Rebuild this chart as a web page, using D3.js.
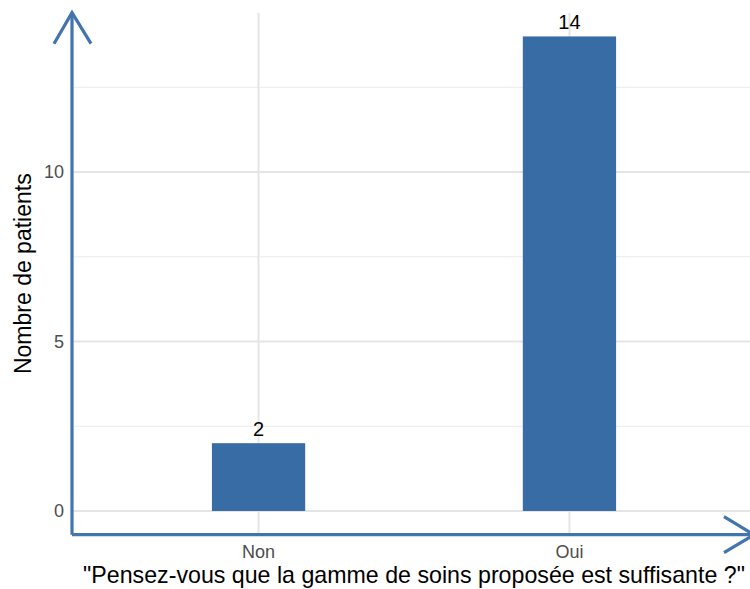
<!DOCTYPE html>
<html><head><meta charset="utf-8">
<script src="https://cdn.jsdelivr.net/npm/d3@7"></script>
<style>body{margin:0;background:#fff}svg{display:block}</style>
</head><body>
<svg id="c" width="750" height="589"></svg>
<script>
const categories = ["Non", "Oui"];
const values = [2, 14];
const yTicks = [0, 5, 10];
const yMinor = [2.5, 7.5, 12.5];
const xTitle = "\"Pensez-vous que la gamme de soins proposée est suffisante ?\"";
const yTitle = "Nombre de patients";

const W = 750, H = 589;
const panel = {left: 72, right: 756, top: 12.7, bottom: 534.7};
const svg = d3.select("#c");
const font = "Liberation Sans, Arial, Helvetica, sans-serif";
const blue = "#386CA5";
const axisBlue = "#4275AD";

const y = d3.scaleLinear().domain([-0.7, 14.7]).range([panel.bottom, panel.top]);
// discrete scale with 0.6 expansion each side
const xPos = d3.scaleLinear().domain([1 - 0.6, 2 + 0.6]).range([panel.left, panel.right]);
const x = c => xPos(categories.indexOf(c) + 1);
const barW = xPos(1.3) - xPos(1);

const g = svg.append("g");
// minor grid
g.selectAll(".ymin").data(yMinor).join("line")
  .attr("x1", panel.left).attr("x2", W).attr("y1", d => y(d)).attr("y2", d => y(d))
  .attr("stroke", "#ebebeb").attr("stroke-width", 1);
// major grid
g.selectAll(".ymaj").data(yTicks).join("line")
  .attr("x1", panel.left).attr("x2", W).attr("y1", d => y(d)).attr("y2", d => y(d))
  .attr("stroke", "#e5e5e5").attr("stroke-width", 2);
g.selectAll(".xmaj").data(categories).join("line")
  .attr("x1", d => x(d)).attr("x2", d => x(d)).attr("y1", panel.top).attr("y2", panel.bottom)
  .attr("stroke", "#e5e5e5").attr("stroke-width", 2);

// bars
g.selectAll(".bar").data(categories).join("rect")
  .attr("x", d => x(d) - barW / 2).attr("width", barW)
  .attr("y", (d, i) => y(values[i])).attr("height", (d, i) => y(0) - y(values[i]))
  .attr("fill", blue);

// bar labels
g.selectAll(".lbl").data(categories).join("text")
  .attr("x", d => x(d)).attr("y", (d, i) => y(values[i]) - 7)
  .attr("text-anchor", "middle").attr("font-family", font).attr("font-size", 20)
  .attr("fill", "#000").text((d, i) => values[i]);

// y tick labels
g.selectAll(".yt").data(yTicks).join("text")
  .attr("x", 64).attr("y", d => y(d)).attr("dy", "0.35em")
  .attr("text-anchor", "end").attr("font-family", font).attr("font-size", 18)
  .attr("fill", "#4d4d4d").text(d => d);
// x tick labels
g.selectAll(".xt").data(categories).join("text")
  .attr("x", d => x(d)).attr("y", 558)
  .attr("text-anchor", "middle").attr("font-family", font).attr("font-size", 18)
  .attr("fill", "#4d4d4d").text(d => d);

// axis lines with arrows
const ax = svg.append("g").attr("stroke", axisBlue).attr("stroke-width", 3.2)
  .attr("fill", "none").attr("stroke-linecap", "butt").attr("stroke-linejoin", "miter");
const ay0 = panel.bottom, axL = panel.left;
ax.append("path").attr("d", `M${axL},${ay0} L${axL},${panel.top}`);
ax.append("path").attr("d", `M${axL - 18},${panel.top + 31} L${axL},${panel.top} L${axL + 19},${panel.top + 31}`);
ax.append("path").attr("d", `M${axL},${ay0} L${panel.right - 2},${ay0}`);
ax.append("path").attr("d", `M${panel.right - 32},${ay0 - 18} L${panel.right - 2},${ay0} L${panel.right - 32},${ay0 + 18}`);

// titles
svg.append("text").attr("x", 414).attr("y", 583)
  .attr("text-anchor", "middle").attr("font-family", font).attr("font-size", 23.2)
  .attr("fill", "#000").text(xTitle);
svg.append("text").attr("transform", `translate(31,${(panel.top + panel.bottom) / 2}) rotate(-90)`)
  .attr("text-anchor", "middle").attr("font-family", font).attr("font-size", 23)
  .attr("fill", "#000").text(yTitle);
</script>
</body></html>
